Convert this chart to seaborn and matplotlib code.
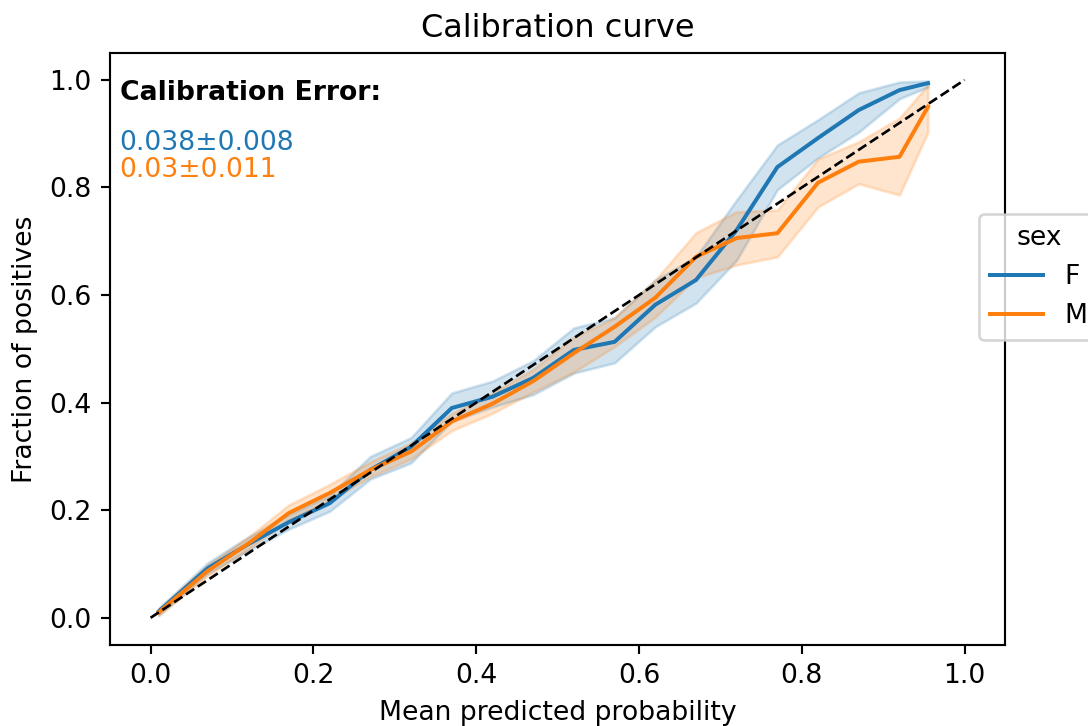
import matplotlib
matplotlib.use("Agg")
import matplotlib.pyplot as plt
import seaborn as sns
import pandas as pd

# bin means (mean predicted probability)
bins = [0.01, 0.07, 0.12, 0.17, 0.22, 0.27, 0.32, 0.37, 0.42, 0.47,
        0.52, 0.57, 0.62, 0.67, 0.72, 0.77, 0.82, 0.87, 0.92, 0.955]

# fraction of positives, with lower / upper band
f_mid = [0.012, 0.092, 0.137, 0.178, 0.213, 0.275, 0.318, 0.390, 0.411, 0.446,
         0.498, 0.513, 0.582, 0.628, 0.721, 0.838, 0.892, 0.944, 0.981, 0.994]
f_lo = [0.005, 0.082, 0.125, 0.165, 0.198, 0.258, 0.288, 0.365, 0.392, 0.415,
        0.455, 0.474, 0.541, 0.585, 0.665, 0.796, 0.855, 0.903, 0.965, 0.987]
f_hi = [0.018, 0.102, 0.150, 0.192, 0.228, 0.300, 0.335, 0.418, 0.440, 0.478,
        0.539, 0.558, 0.628, 0.671, 0.777, 0.879, 0.926, 0.976, 0.996, 0.998]

m_mid = [0.010, 0.087, 0.138, 0.195, 0.232, 0.275, 0.309, 0.365, 0.398, 0.440,
         0.492, 0.541, 0.595, 0.671, 0.706, 0.715, 0.809, 0.848, 0.857, 0.950]
m_lo = [0.004, 0.078, 0.128, 0.182, 0.218, 0.262, 0.295, 0.348, 0.380, 0.420,
        0.457, 0.504, 0.559, 0.632, 0.656, 0.671, 0.764, 0.807, 0.786, 0.903]
m_hi = [0.016, 0.098, 0.150, 0.210, 0.248, 0.290, 0.325, 0.380, 0.418, 0.462,
        0.522, 0.558, 0.628, 0.716, 0.755, 0.758, 0.853, 0.885, 0.929, 0.991]

errors = {"F": "0.038\u00b10.008", "M": "0.03\u00b10.011"}

# long table: three rows per bin so median = line and min/max = band
rows = []
for sex, series in [("F", (f_lo, f_mid, f_hi)), ("M", (m_lo, m_mid, m_hi))]:
    for vals in series:
        for x, y in zip(bins, vals):
            rows.append({"mean_pred": x, "frac_pos": y, "sex": sex})
df = pd.DataFrame(rows)

DPI = 192
fig = plt.figure(figsize=(1088 / DPI, 726 / DPI), dpi=DPI)
ax = fig.add_axes([0.101, 0.112, 0.823, 0.815])

sns.lineplot(data=df, x="mean_pred", y="frac_pos", hue="sex",
             estimator="median", errorbar=("pi", 100), ax=ax)
ax.plot([0, 1], [0, 1], "k--", lw=1)

ax.set_title("Calibration curve", fontsize=12)
ax.set_xlabel("Mean predicted probability")
ax.set_ylabel("Fraction of positives")

ax.text(0.011, 0.955, "Calibration Error:", transform=ax.transAxes,
        fontweight="bold", va="top")
ax.text(0.011, 0.870, errors["F"], transform=ax.transAxes, color="C0", va="top")
ax.text(0.011, 0.824, errors["M"], transform=ax.transAxes, color="C1", va="top")

sns.move_legend(ax, "upper left", bbox_to_anchor=(0.971, 0.728), borderaxespad=0)

fig.savefig("out.png", dpi=DPI)
